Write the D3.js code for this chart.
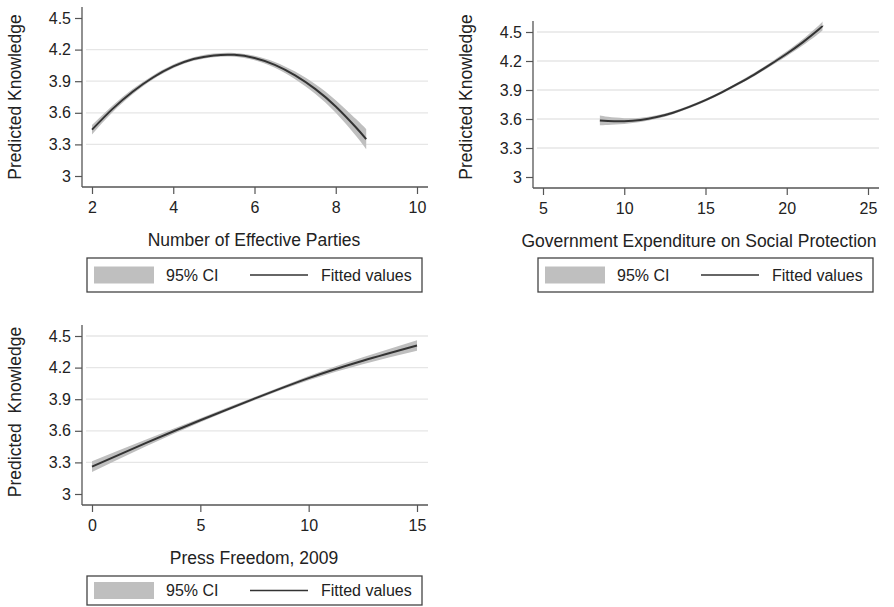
<!DOCTYPE html>
<meta charset="utf-8">
<style>
body { margin: 0; background: #fff; }
svg { font-family: "Liberation Sans", Arial, sans-serif; }
.tick text { font-size: 16px; fill: #222; }
.tick line { stroke: #555; stroke-width: 1.2px; }
.axis-line { stroke: #555; stroke-width: 1.3px; }
.grid { stroke: #e6e6e6; stroke-width: 1.3px; }
.ci { fill: #bfbfbf; }
.fit { fill: none; stroke: #333; stroke-width: 2px; }
.title { font-size: 17.5px; fill: #222; }
.legend-box { fill: #fff; stroke: #444; stroke-width: 1.3px; }
.legend-text { font-size: 16px; fill: #222; }
</style>
<body>
<script src="https://cdnjs.cloudflare.com/ajax/libs/d3/7.8.5/d3.min.js"></script>
<script>
// values
var yTicks = [3, 3.3, 3.6, 3.9, 4.2, 4.5];

var partiesX    = [2, 2.5, 3, 3.5, 4, 4.5, 5, 5.5, 6, 6.5, 7, 7.5, 8, 8.5, 8.75];
var partiesFit  = [3.44, 3.635, 3.80, 3.935, 4.04, 4.11, 4.145, 4.15, 4.12, 4.055, 3.955, 3.825, 3.66, 3.46, 3.35];
var partiesCI   = [0.045, 0.033, 0.025, 0.02, 0.018, 0.017, 0.017, 0.018, 0.022, 0.028, 0.036, 0.046, 0.06, 0.08, 0.095];
var partiesTicks = [2, 4, 6, 8, 10];

var spendX    = [8.5, 9, 10, 11, 12, 13, 14, 15, 16, 17, 18, 19, 20, 21, 22, 22.2];
var spendFit  = [3.585, 3.58, 3.578, 3.59, 3.62, 3.665, 3.725, 3.795, 3.875, 3.965, 4.06, 4.165, 4.275, 4.395, 4.53, 4.565];
var spendCI   = [0.05, 0.042, 0.03, 0.022, 0.018, 0.016, 0.015, 0.015, 0.015, 0.016, 0.018, 0.02, 0.025, 0.033, 0.043, 0.047];
var spendTicks = [5, 10, 15, 20, 25];

var pressX    = [0, 2.5, 5, 7.5, 10, 12.5, 15];
var pressFit  = [3.26, 3.485, 3.70, 3.905, 4.10, 4.265, 4.41];
var pressCI   = [0.05, 0.032, 0.02, 0.015, 0.02, 0.033, 0.05];
var pressTicks = [0, 5, 10, 15];

var svg = d3.select("body").append("svg")
    .attr("width", 894)
    .attr("height", 607);

function panel(o) {
  var g = svg.append("g");
  var x = d3.scaleLinear().domain(o.xDom).range(o.xRange);
  var y = d3.scaleLinear().domain([3, 4.5]).range(o.yRange);
  var left = o.xRange[0] - 10, right = o.xRange[1] + 11;
  var top = y(4.5) - 11, bottom = y(3) + 11;

  // grid
  g.selectAll(".grid")
    .data(yTicks.filter(function(t) { return t > 3 && (o.topGrid || t < 4.5); }))
    .enter().append("line")
      .attr("class", "grid")
      .attr("x1", left + 4).attr("x2", right)
      .attr("y1", function(d) { return y(d); })
      .attr("y2", function(d) { return y(d); });

  var pts = o.xs.map(function(v, i) { return {x: v, f: o.fit[i], c: o.ci[i]}; });

  g.append("path")
      .attr("class", "ci")
      .attr("d", d3.area()
        .curve(d3.curveNatural)
        .x(function(d) { return x(d.x); })
        .y0(function(d) { return y(d.f - d.c); })
        .y1(function(d) { return y(d.f + d.c); })(pts));

  g.append("path")
      .attr("class", "fit")
      .attr("d", d3.line()
        .curve(d3.curveNatural)
        .x(function(d) { return x(d.x); })
        .y(function(d) { return y(d.f); })(pts));

  // axes
  var ax = g.append("g")
      .attr("transform", "translate(" + left + ",0)")
      .call(d3.axisLeft(y).tickValues(yTicks).tickSize(7).tickPadding(4)
        .tickFormat(function(d) { return d3.format("~g")(d); }));
  ax.select(".domain").remove();
  var bx = g.append("g")
      .attr("transform", "translate(0," + bottom + ")")
      .call(d3.axisBottom(x).tickValues(o.xTicks).tickSize(7).tickPadding(8));
  bx.select(".domain").remove();

  g.append("line").attr("class", "axis-line")
      .attr("x1", left).attr("x2", left).attr("y1", top).attr("y2", bottom);
  g.append("line").attr("class", "axis-line")
      .attr("x1", left).attr("x2", right).attr("y1", bottom).attr("y2", bottom);

  // titles
  g.append("text")
      .attr("class", "title")
      .attr("transform", "translate(" + (left - 61) + "," + o.yTitleY + ") rotate(-90)")
      .attr("text-anchor", "middle")
      .style("white-space", "pre")
      .text(o.yTitle);
  g.append("text")
      .attr("class", "title")
      .attr("x", o.xTitleX)
      .attr("y", bottom + 59)
      .attr("text-anchor", "middle")
      .text(o.xTitle);

  // legend
  var lx = left + 5, ly = o.legendY;
  var lg = g.append("g").attr("transform", "translate(" + lx + "," + ly + ")");
  lg.append("rect").attr("class", "legend-box")
      .attr("width", 335).attr("height", o.legendH);
  var mid = o.legendH / 2;
  lg.append("rect").attr("class", "ci")
      .attr("x", 7).attr("y", mid - 8.5).attr("width", 60).attr("height", 17);
  lg.append("text").attr("class", "legend-text")
      .attr("x", 79).attr("y", mid + 5.5).text("95% CI");
  lg.append("line").attr("class", "fit").style("stroke-width", "1.5px")
      .attr("x1", 163).attr("x2", 221).attr("y1", mid).attr("y2", mid);
  lg.append("text").attr("class", "legend-text")
      .attr("x", 234).attr("y", mid + 5.5).text("Fitted values");
}

panel({
  xs: partiesX, fit: partiesFit, ci: partiesCI, xTicks: partiesTicks,
  xDom: [2, 10], xRange: [92, 417], yRange: [176, 18], topGrid: false,
  yTitle: "Predicted Knowledge", yTitleY: 97,
  xTitle: "Number of Effective Parties", xTitleX: 254,
  legendY: 258, legendH: 34
});

panel({
  xs: spendX, fit: spendFit, ci: spendCI, xTicks: spendTicks,
  xDom: [5, 25], xRange: [543, 868], yRange: [177, 32], topGrid: true,
  yTitle: "Predicted Knowledge", yTitleY: 97,
  xTitle: "Government Expenditure on Social Protection", xTitleX: 699,
  legendY: 258, legendH: 34
});

panel({
  xs: pressX, fit: pressFit, ci: pressCI, xTicks: pressTicks,
  xDom: [0, 15], xRange: [92, 417], yRange: [494, 336], topGrid: true,
  yTitle: "Predicted  Knowledge", yTitleY: 412,
  xTitle: "Press Freedom, 2009", xTitleX: 254,
  legendY: 576, legendH: 29
});
</script>
</body>
